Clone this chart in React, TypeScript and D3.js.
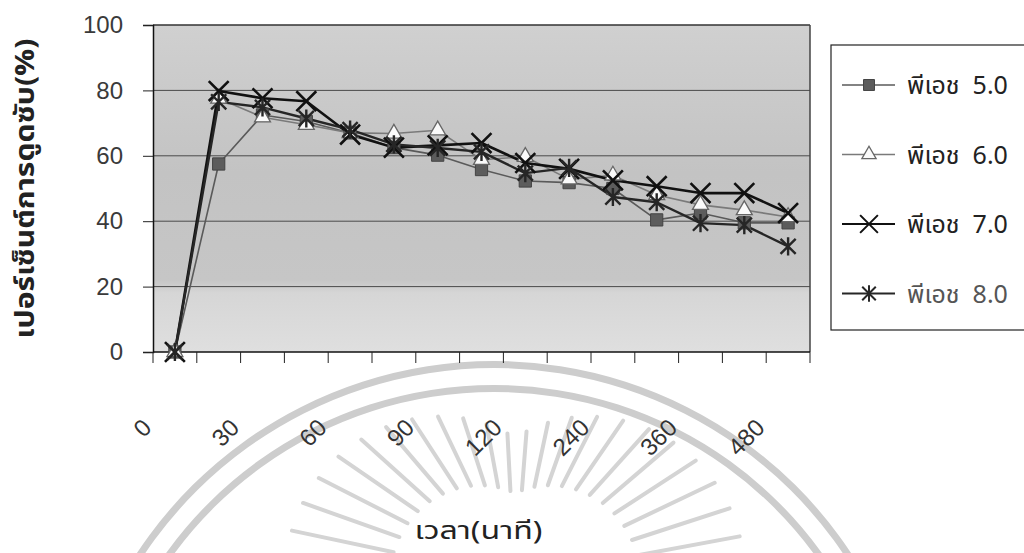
import * as d3 from "d3";
import { useEffect, useRef } from "react";

// time (min) categories, only every other one is labelled on the axis
const times = ["0", "15", "30", "45", "60", "75", "90", "105", "120", "180", "240", "300", "360", "420", "480"];
const tickLabels = ["0", "30", "60", "90", "120", "240", "360", "480"];
const yTicks = [0, 20, 40, 60, 80, 100];

// percent adsorption per pH
const ph5 = [0, 57.5, 72.5, 70.5, 67, 62.5, 60.2, 55.8, 52.3, 51.8, 50, 40.4, 42.5, 39.5, 39.5];
const ph6 = [0, 77.5, 71.8, 69.5, 67, 66.8, 67.8, 58.8, 59.7, 52.8, 54, 48, 45, 43.4, 41.3];
const ph7 = [0, 79.8, 77.6, 76.7, 66.5, 62.5, 63.2, 63.9, 57.8, 56, 52.5, 50.7, 48.6, 48.6, 42.5];
const ph8 = [0, 76.5, 74.8, 71.4, 68, 63.5, 62.4, 61.2, 54.7, 56.3, 47.4, 45.8, 39.4, 38.8, 32.3];

const seriesNames = ["พีเอช  5.0", "พีเอช  6.0", "พีเอช  7.0", "พีเอช  8.0"];

const thaiFont = "'Noto Sans Thai', 'Noto Sans Thai UI', Tahoma, 'Liberation Sans', sans-serif";
const numFont = "'Liberation Sans', Arial, sans-serif";

// x plus a vertical stroke, like excel's star marker
const symbolStar = {
  draw(ctx, size) {
    const r = Math.sqrt(size) / 2;
    ctx.moveTo(-r, -r);
    ctx.lineTo(r, r);
    ctx.moveTo(r, -r);
    ctx.lineTo(-r, r);
    ctx.moveTo(0, -r * 1.2);
    ctx.lineTo(0, r * 1.2);
  },
};

const App = () => {
  const ref = useRef(null);

  useEffect(() => {
    const W = 1024,
      H = 553;
    const margin = { top: 25, right: 214, bottom: 201, left: 153 },
      width = W - margin.left - margin.right,
      height = H - margin.top - margin.bottom;

    const root = d3.select(ref.current);
    root.selectAll("*").remove();

    const defs = root.append("defs");
    const grad = defs
      .append("linearGradient")
      .attr("id", "plotBg")
      .attr("x1", 0)
      .attr("y1", 0)
      .attr("x2", 0)
      .attr("y2", 1);
    [
      [0, "#d0d0d0"],
      [0.45, "#c3c3c3"],
      [0.78, "#c6c6c6"],
      [0.82, "#d6d6d6"],
      [1, "#dfdfdf"],
    ].forEach(([o, c]) => grad.append("stop").attr("offset", o).attr("stop-color", c));

    // faint seal watermark from the scanned page
    const wm = root.append("g").attr("fill", "#cdcdcd");
    const arc = d3.arc();
    [[421, 428], [397, 404]].forEach(([r0, r1]) => {
      wm.append("path")
        .attr("transform", "translate(494,789)")
        .attr("d", arc({ innerRadius: r0, outerRadius: r1, startAngle: -1.25, endAngle: 1.25 }));
    });
    const rays = root.append("g").attr("stroke", "#d4d4d4").attr("stroke-linecap", "round");
    d3.range(12, 172, 7.5).forEach((deg) => {
      const a = (deg * Math.PI) / 180;
      const c = Math.abs(Math.cos(a));
      const r0 = 85 + 40 * c,
        r1 = 140 + 90 * c;
      rays
        .append("line")
        .attr("x1", 515 - r0 * Math.cos(a))
        .attr("y1", 578 - r0 * Math.sin(a))
        .attr("x2", 515 - r1 * Math.cos(a))
        .attr("y2", 578 - r1 * Math.sin(a))
        .attr("stroke-width", 4);
    });

    const svg = root.append("g").attr("transform", `translate(${margin.left},${margin.top})`);

    const x = d3.scaleBand().domain(times).range([0, width]).padding(0);
    const y = d3.scaleLinear().domain([0, 100]).range([height, 0]);
    const cx = (t) => x(t) + x.bandwidth() / 2;

    svg.append("rect").attr("width", width).attr("height", height).attr("fill", "url(#plotBg)");

    // gridlines
    svg
      .selectAll(".grid")
      .data(yTicks.filter((d) => d > 0))
      .join("line")
      .attr("x1", 0)
      .attr("x2", width)
      .attr("y1", (d) => y(d))
      .attr("y2", (d) => y(d))
      .attr("stroke", (d) => (d === 100 ? "#333" : "#4a4a4a"))
      .attr("stroke-width", (d) => (d === 100 ? 1.5 : 1));
    svg
      .append("line")
      .attr("x1", width)
      .attr("x2", width)
      .attr("y1", 0)
      .attr("y2", height)
      .attr("stroke", "#444")
      .attr("stroke-width", 1.5);

    // y axis
    const yAxis = svg
      .append("g")
      .call(d3.axisLeft(y).tickValues(yTicks).tickSize(10).tickPadding(20));
    yAxis.select(".domain").attr("stroke", "#111").attr("stroke-width", 1.5);
    yAxis.selectAll(".tick line").attr("stroke", "#222");
    yAxis
      .selectAll(".tick text")
      .attr("font-family", numFont)
      .attr("font-size", 24)
      .attr("fill", "#3a3a3a");

    // x axis, ticks on category boundaries
    const xAxis = svg.append("g").attr("transform", `translate(0,${height})`);
    xAxis
      .append("line")
      .attr("x1", 0)
      .attr("x2", width)
      .attr("stroke", "#111")
      .attr("stroke-width", 1.5);
    xAxis
      .selectAll(".xt")
      .data([...times, null])
      .join("line")
      .attr("x1", (d) => (d === null ? width : x(d)))
      .attr("x2", (d) => (d === null ? width : x(d)))
      .attr("y1", 0)
      .attr("y2", 11)
      .attr("stroke", "#222");
    xAxis
      .selectAll(".xl")
      .data(times.filter((t) => tickLabels.includes(t)))
      .join("text")
      .attr("transform", (d) => `translate(${x(d)},77) rotate(-45)`)
      .attr("text-anchor", "end")
      .attr("font-family", numFont)
      .attr("font-size", 24)
      .attr("fill", "#333")
      .text((d) => d);

    // series
    const series = [
      { name: seriesNames[0], values: ph5, line: "#5a5a5a", lw: 1.6, sym: d3.symbolSquare, size: 150, fill: "#5c5c5c", stroke: "#444", sw: 1 },
      { name: seriesNames[1], values: ph6, line: "#7a7a7a", lw: 1.6, sym: d3.symbolTriangle, size: 110, fill: "#fafafa", stroke: "#666", sw: 1.3 },
      { name: seriesNames[2], values: ph7, line: "#111", lw: 2.6, sym: d3.symbolTimes, size: 260, fill: "none", stroke: "#111", sw: 2.6 },
      { name: seriesNames[3], values: ph8, line: "#262626", lw: 2.4, sym: symbolStar, size: 230, fill: "none", stroke: "#262626", sw: 2.4 },
    ];

    const line = d3
      .line()
      .x((d, i) => cx(times[i]))
      .y((d) => y(d));

    series.forEach((s) => {
      svg
        .append("path")
        .attr("d", line(s.values))
        .attr("fill", "none")
        .attr("stroke", s.line)
        .attr("stroke-width", s.lw)
        .attr("stroke-linejoin", "round");
    });
    series.forEach((s) => {
      svg
        .selectAll(null)
        .data(s.values)
        .join("path")
        .attr("transform", (d, i) => `translate(${cx(times[i])},${y(d)})`)
        .attr("d", d3.symbol(s.sym, s.size))
        .attr("fill", s.fill)
        .attr("stroke", s.stroke)
        .attr("stroke-width", s.sw);
    });

    // axis titles
    svg
      .append("text")
      .attr("transform", `translate(${34 - margin.left},${height / 2}) rotate(-90)`)
      .attr("text-anchor", "middle")
      .attr("font-family", thaiFont)
      .attr("font-size", 27)
      .attr("font-weight", "bold")
      .attr("fill", "#222")
      .attr("textLength", 300)
      .attr("lengthAdjust", "spacingAndGlyphs")
      .text("เปอร์เซ็นต์การดูดซับ(%)");
    svg
      .append("text")
      .attr("x", width / 2 - 3)
      .attr("y", height + 187)
      .attr("text-anchor", "middle")
      .attr("font-family", thaiFont)
      .attr("font-size", 25)
      .attr("fill", "#222")
      .attr("textLength", 128)
      .attr("lengthAdjust", "spacingAndGlyphs")
      .text("เวลา(นาที)");

    // legend
    const lg = root.append("g").attr("transform", "translate(831,45)");
    lg.append("rect")
      .attr("width", 210)
      .attr("height", 285)
      .attr("fill", "#fff")
      .attr("stroke", "#222")
      .attr("stroke-width", 1.2);
    const item = lg
      .selectAll(".item")
      .data(series)
      .join("g")
      .attr("transform", (d, i) => `translate(0,${40 + i * 69.5})`);
    item
      .append("line")
      .attr("x1", 11)
      .attr("x2", 64)
      .attr("stroke", (d) => d.line)
      .attr("stroke-width", (d) => Math.min(d.lw, 2));
    item
      .append("path")
      .attr("transform", "translate(38,0)")
      .attr("d", (d) => d3.symbol(d.sym, d.size * 0.8)())
      .attr("fill", (d) => d.fill)
      .attr("stroke", (d) => d.stroke)
      .attr("stroke-width", (d) => Math.min(d.sw, 2));
    item
      .append("text")
      .attr("x", 76)
      .attr("dy", "0.36em")
      .attr("font-family", thaiFont)
      .attr("font-size", 25)
      .attr("fill", (d, i) => (i === 3 ? "#555" : "#222"))
      .style("white-space", "pre")
      .text((d) => d.name);
  }, []);

  return (
    <svg
      ref={ref}
      width={1024}
      height={553}
      style={{ position: "absolute", left: 0, top: 0, background: "#fff" }}
    />
  );
};

export default App;
